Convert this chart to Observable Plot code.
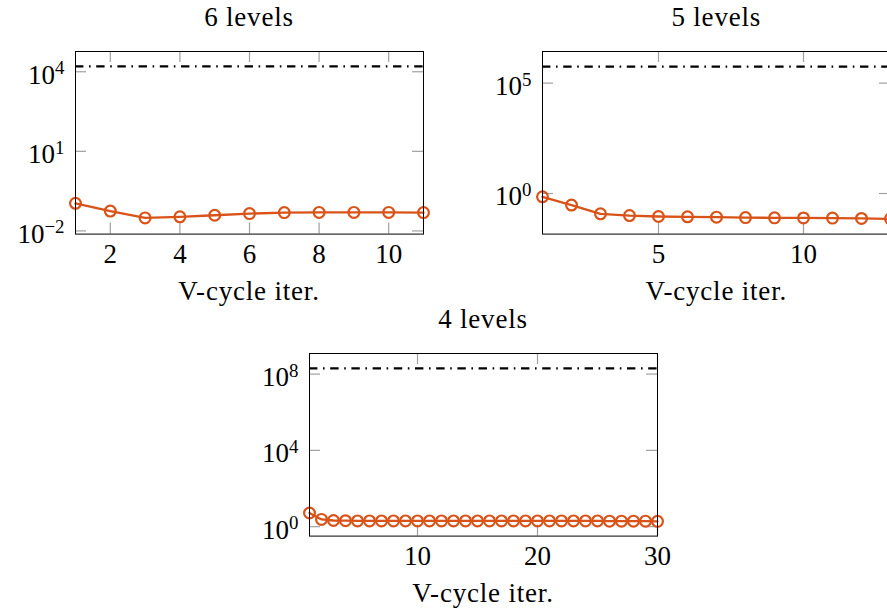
<!DOCTYPE html>
<html>
<head>
<meta charset="utf-8">
<script src="https://cdn.jsdelivr.net/npm/d3@7"></script>
<script src="https://cdn.jsdelivr.net/npm/@observablehq/plot@0.6"></script>
<style>
  html, body { margin: 0; padding: 0; background: #fff; }
  body { position: relative; width: 887px; height: 609px; overflow: hidden; font-family: "Liberation Serif", serif; color: #000; }
  .lbl { position: absolute; font-size: 27px; letter-spacing: 0.03em; white-space: nowrap; transform: translate(-50%, -50%); line-height: 1; }
  .panel { position: absolute; }
</style>
</head>
<body>
<script>
// ---- data ----
const titles = ["6 levels", "5 levels", "4 levels"];
const xLabel = "V-cycle iter.";

const iter6 = [1, 2, 3, 4, 5, 6, 7, 8, 9, 10, 11];
const res6 = [0.11, 0.056, 0.031, 0.034, 0.039, 0.045, 0.049, 0.05, 0.05, 0.05, 0.049];
const ref6 = 1.6e4;
const xTicks6 = [2, 4, 6, 8, 10];
const yTicks6 = [1e-2, 1e1, 1e4];
const xDomain6 = [1, 11];
const yDomain6 = [7.6e-3, 5.8e4];

const iter5 = [1, 2, 3, 4, 5, 6, 7, 8, 9, 10, 11, 12, 13];
const res5 = [0.71, 0.30, 0.12, 0.10, 0.091, 0.088, 0.085, 0.081, 0.079, 0.078, 0.077, 0.074, 0.071];
const ref5 = 5.6e5;
const xTicks5 = [5, 10];
const yTicks5 = [1e0, 1e5];
const xDomain5 = [1, 13];
const yDomain5 = [1.45e-2, 2.7e6];

const iter4 = Array.from({length: 30}, (_, i) => i + 1);
const res4 = [5.2, 2.4, 2.1, 2.05, 2.0, 2.0, 2.0, 2.0, 2.0, 2.0, 2.0, 2.0, 2.0, 2.0, 2.0,
              2.0, 2.0, 2.0, 2.0, 2.0, 2.0, 2.0, 2.0, 2.0, 2.0, 1.95, 1.95, 1.95, 1.95, 1.9];
const ref4 = 2e8;
const xTicks4 = [10, 20, 30];
const yTicks4 = [1e0, 1e4, 1e8];
const xDomain4 = [1, 30];
const yDomain4 = [0.32, 1.2e9];

// ---- layout ----
const FW = 348, FH = 182.6;
const ML = 90, MR = 20, MT = 12, MB = 50;
const panels = [
  {left: 75, top: 50.7, iter: iter6, res: res6, ref: ref6, xTicks: xTicks6, yTicks: yTicks6, xDomain: xDomain6, yDomain: yDomain6, title: titles[0]},
  {left: 542.3, top: 50.7, iter: iter5, res: res5, ref: ref5, xTicks: xTicks5, yTicks: yTicks5, xDomain: xDomain5, yDomain: yDomain5, title: titles[1]},
  {left: 309, top: 352.7, iter: iter4, res: res4, ref: ref4, xTicks: xTicks4, yTicks: yTicks4, xDomain: xDomain4, yDomain: yDomain4, title: titles[2]}
];

const orange = "#D95319";
const tickGray = "#a0a0a0";
const TL = 11;

for (const p of panels) {
  const data = p.iter.map((x, i) => ({x, y: p.res[i]}));
  const svg = Plot.plot({
    width: ML + FW + MR,
    height: MT + FH + MB,
    marginLeft: ML, marginRight: MR, marginTop: MT, marginBottom: MB,
    style: "font-family: 'Liberation Serif', serif; font-size: 27px; overflow: visible; background: transparent;",
    x: {type: "linear", domain: p.xDomain},
    y: {type: "log", domain: p.yDomain},
    marks: [
      Plot.ruleX(p.xTicks, {insetTop: FH - TL, stroke: tickGray, strokeWidth: 1.2}),
      Plot.ruleX(p.xTicks, {insetBottom: FH - TL, stroke: tickGray, strokeWidth: 1.2}),
      Plot.ruleY(p.yTicks, {insetRight: FW - TL, stroke: tickGray, strokeWidth: 1.2}),
      Plot.ruleY(p.yTicks, {insetLeft: FW - TL, stroke: tickGray, strokeWidth: 1.2}),
      Plot.axisX({ticks: p.xTicks, tickSize: 0, tickPadding: 10, tickFormat: d => String(d), label: null, fontSize: 27}),
      Plot.axisY({ticks: p.yTicks, tickSize: 0, tickPadding: 11, label: null, fontSize: 27,
        tickFormat: d => String(Math.round(Math.log10(d))).replace("-", "\u2212")}),
      Plot.ruleY([p.ref], {stroke: "black", strokeWidth: 2.3, strokeDasharray: "8.4 5.6 1.6 5.6"}),
      Plot.line(data, {x: "x", y: "y", stroke: orange, strokeWidth: 2.3}),
      Plot.dot(data, {x: "x", y: "y", r: 5.4, stroke: orange, strokeWidth: 2.2, fill: "none"}),
      Plot.frame({stroke: "black", strokeWidth: 1})
    ]
  });
  // superscript exponents on y tick labels
  d3.select(svg).selectAll('g[aria-label="y-axis tick label"] text').each(function() {
    const e = this.textContent;
    const t = d3.select(this);
    t.text(null);
    t.append("tspan").attr("dy", "0.12em").text("10");
    t.append("tspan").attr("dy", "-0.5em").attr("font-size", "0.7em").text(e);
  });
  svg.classList.add("panel");
  svg.style.position = "absolute";
  svg.style.left = (p.left - ML) + "px";
  svg.style.top = (p.top - MT) + "px";
  document.body.appendChild(svg);

  const t = document.createElement("div");
  t.className = "lbl";
  t.textContent = p.title;
  t.style.left = (p.left + FW / 2) + "px";
  t.style.top = (p.top - 34) + "px";
  document.body.appendChild(t);

  const xl = document.createElement("div");
  xl.className = "lbl";
  xl.textContent = xLabel;
  xl.style.left = (p.left + FW / 2) + "px";
  xl.style.top = (p.top + FH + 58) + "px";
  document.body.appendChild(xl);
}
</script>
</body>
</html>
